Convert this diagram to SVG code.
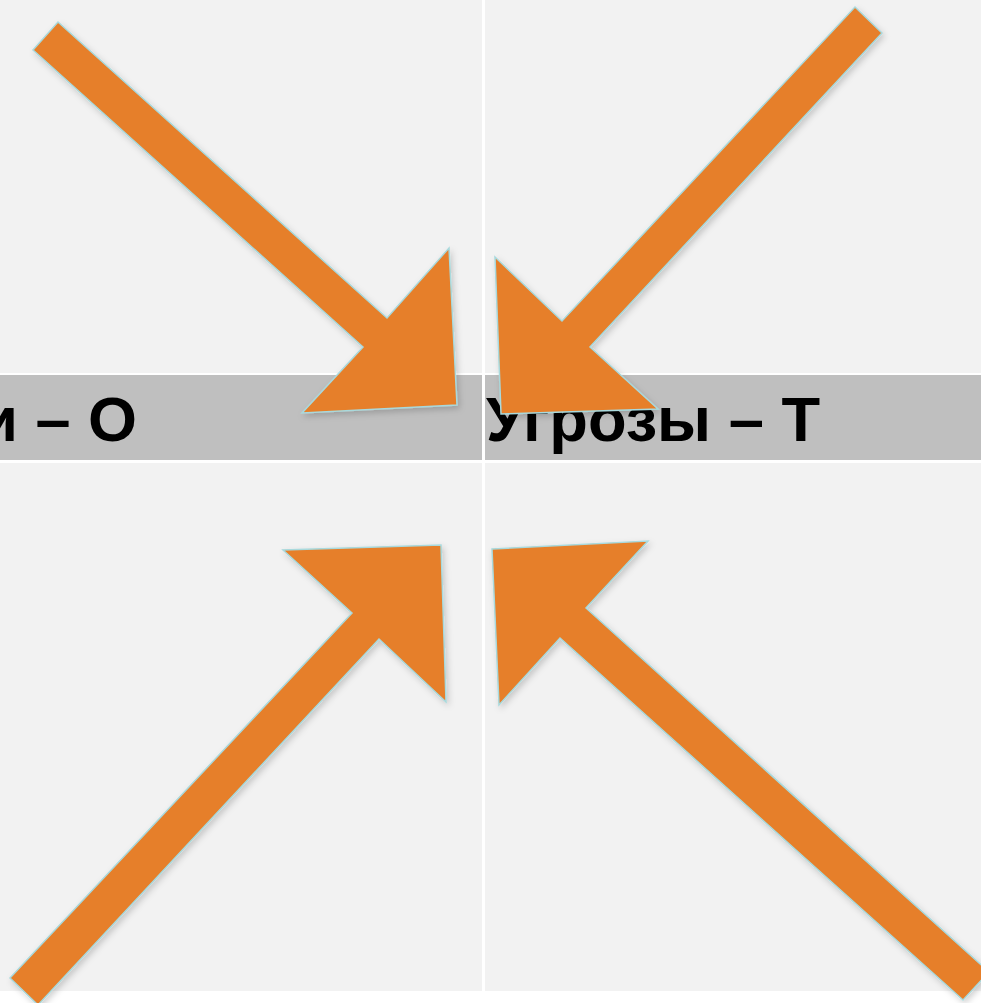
<svg xmlns="http://www.w3.org/2000/svg" width="981" height="1003" viewBox="0 0 981 1003">
<style>
.arrow{fill:#e67f2a;stroke:#a9d9dc;stroke-width:1.5;stroke-linejoin:miter;filter:url(#sh)}
.lbl{font-family:"Liberation Sans",Arial,sans-serif;font-weight:bold;font-size:63px;fill:#000}
</style>
<defs>
<filter id="sh" x="-10%" y="-10%" width="130%" height="130%">
<feDropShadow dx="2" dy="3" stdDeviation="3" flood-color="#000" flood-opacity="0.18"/>
</filter>
</defs>
<rect x="0" y="0" width="981" height="1003" fill="#ffffff"/>
<g id="cells">
<rect x="0" y="0" width="482" height="373" fill="#f2f2f2"/>
<rect x="485" y="0" width="496" height="373" fill="#f2f2f2"/>
<rect x="0" y="375" width="482" height="85" fill="#bfbfbf"/>
<rect x="485" y="375" width="496" height="85" fill="#bfbfbf"/>
<rect x="0" y="463" width="482" height="528" fill="#f2f2f2"/>
<rect x="485" y="463" width="496" height="528" fill="#f2f2f2"/>
</g>
<g id="label-o"><text class="lbl" x="137" y="441" text-anchor="end">и – О</text></g>
<g id="label-t"><text class="lbl" x="486" y="441" textLength="334" lengthAdjust="spacingAndGlyphs">Угрозы – Т</text></g>
<g id="connectors">
<polygon id="arrow-tl" class="arrow" points="58,22 387,318 449,248 457,405 302,413 363,347 33,50"/>
<polygon id="arrow-tr" class="arrow" points="855,7 882,33 590,347 658,409 501,414 495,257 562,321"/>
<polygon id="arrow-bl" class="arrow" points="10,978 352,613 283,550 441,545 446,702 379,639 38,1005"/>
<polygon id="arrow-br" class="arrow" points="989,972 586,608 648,541 492,549 499,705 560,638 963,1000"/>
</g>
</svg>
